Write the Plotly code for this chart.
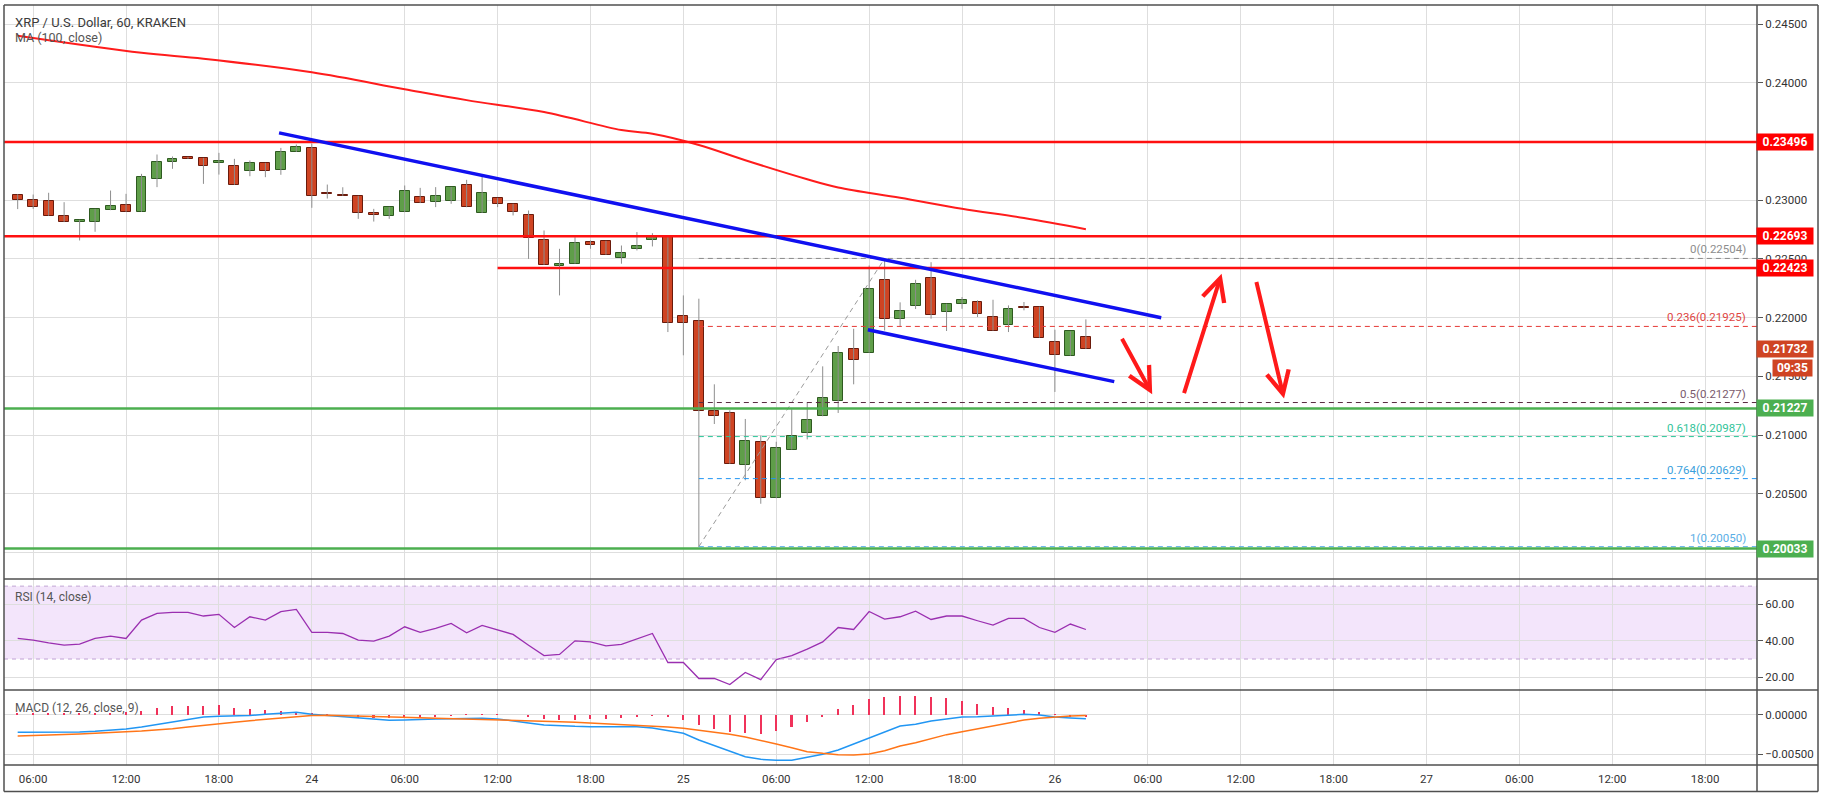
import plotly.graph_objects as go
from plotly.subplots import make_subplots
import pandas as pd

# ---------------- data ----------------
TIMES = pd.date_range('2019-11-23 05:00', periods=70, freq='h')

OPEN = [0.23046, 0.23003, 0.22989, 0.22867, 0.22813, 0.22813, 0.22915, 0.22960, 0.22901, 0.23182,
        0.23326, 0.23369, 0.23360, 0.23318, 0.23292, 0.23250, 0.23318, 0.23255, 0.23411, 0.23445,
        0.23065, 0.23046, 0.23037, 0.22893, 0.22864, 0.22898, 0.23028, 0.22983, 0.22992, 0.23133,
        0.22892, 0.23020, 0.22969, 0.22878, 0.22657, 0.22436, 0.22459, 0.22640, 0.22654, 0.22509,
        0.22586, 0.22663, 0.22697, 0.22017, 0.21974, 0.21202, 0.21191, 0.20747, 0.20938, 0.20462,
        0.20877, 0.21018, 0.21160, 0.21290, 0.21733, 0.21701, 0.22317, 0.21991, 0.22101, 0.22339,
        0.22045, 0.22118, 0.22135, 0.22008, 0.21940, 0.22093, 0.22093, 0.21795, 0.21676, 0.21837]
HIGH = [0.23050, 0.23048, 0.23063, 0.22983, 0.22833, 0.22926, 0.23082, 0.23054, 0.23224, 0.23389,
        0.23372, 0.23369, 0.23360, 0.23403, 0.23352, 0.23338, 0.23318, 0.23445, 0.23474, 0.23480,
        0.23133, 0.23110, 0.23037, 0.22926, 0.22943, 0.23125, 0.23105, 0.23111, 0.23113, 0.23173,
        0.23204, 0.23020, 0.22969, 0.22912, 0.22742, 0.22586, 0.22685, 0.22657, 0.22654, 0.22614,
        0.22728, 0.22719, 0.22697, 0.22189, 0.22161, 0.21432, 0.21211, 0.21137, 0.20995, 0.20943,
        0.21220, 0.21276, 0.21585, 0.21758, 0.21905, 0.22444, 0.22504, 0.22130, 0.22322, 0.22472,
        0.22118, 0.22175, 0.22147, 0.22152, 0.22104, 0.22133, 0.22093, 0.21897, 0.21883, 0.21985]
LOW = [0.22924, 0.22926, 0.22867, 0.22813, 0.22657, 0.22731, 0.22915, 0.22901, 0.22901, 0.23111,
       0.23267, 0.23352, 0.23139, 0.23218, 0.23131, 0.23204, 0.23196, 0.23216, 0.23411, 0.22935,
       0.23014, 0.23037, 0.22841, 0.22818, 0.22841, 0.22898, 0.22975, 0.22941, 0.22969, 0.22940,
       0.22892, 0.22941, 0.22870, 0.22500, 0.22450, 0.22189, 0.22459, 0.22586, 0.22535, 0.22459,
       0.22572, 0.22606, 0.21877, 0.21679, 0.20048, 0.21094, 0.20755, 0.20615, 0.20415, 0.20462,
       0.20877, 0.20963, 0.21160, 0.21188, 0.21432, 0.21701, 0.21891, 0.21920, 0.22073, 0.21991,
       0.21886, 0.22075, 0.22005, 0.21889, 0.21877, 0.22062, 0.21829, 0.21367, 0.21676, 0.21732]
CLOSE = [0.23003, 0.22940, 0.22867, 0.22813, 0.22833, 0.22926, 0.22952, 0.22901, 0.23199, 0.23326,
         0.23352, 0.23352, 0.23292, 0.23335, 0.23131, 0.23318, 0.23247, 0.23411, 0.23457, 0.23034,
         0.23054, 0.23037, 0.22892, 0.22870, 0.22943, 0.23080, 0.22975, 0.23037, 0.23113, 0.22940,
         0.23062, 0.22966, 0.22898, 0.22680, 0.22450, 0.22456, 0.22637, 0.22620, 0.22535, 0.22552,
         0.22611, 0.22694, 0.21957, 0.21957, 0.21202, 0.21165, 0.20755, 0.20952, 0.20468, 0.20886,
         0.20988, 0.21131, 0.21319, 0.21701, 0.21643, 0.22246, 0.21991, 0.22058, 0.22288, 0.22025,
         0.22118, 0.22152, 0.22033, 0.21889, 0.22076, 0.22082, 0.21829, 0.21685, 0.21883, 0.21732]

MA_TIMES = ['2019-11-23 05:00', '2019-11-23 13:00', '2019-11-23 17:00', '2019-11-24 00:00',
            '2019-11-24 06:00', '2019-11-24 10:00', '2019-11-24 15:00', '2019-11-24 20:00',
            '2019-11-24 22:00', '2019-11-25 01:00', '2019-11-25 04:00', '2019-11-25 08:00',
            '2019-11-25 10:00', '2019-11-25 14:00', '2019-11-25 18:00', '2019-11-25 22:00',
            '2019-11-26 02:00']
MA_VALUES = [0.24400, 0.24255, 0.24205, 0.24089, 0.23945, 0.23852, 0.23750, 0.23597,
             0.23565, 0.23470, 0.23340, 0.23178, 0.23108, 0.23020, 0.22927, 0.22848, 0.22753]

RSI = [41.3, 40.4, 38.9, 37.6, 38.2, 41.3, 42.6, 41.3, 51.4, 55.0,
       55.6, 55.6, 53.6, 54.5, 47.3, 53.2, 51.4, 56.0, 57.2, 44.6,
       44.6, 44.0, 40.4, 39.8, 42.6, 47.7, 44.6, 46.8, 49.5, 44.4,
       48.4, 45.9, 43.5, 37.6, 31.9, 32.5, 40.0, 39.4, 37.2, 38.0,
       40.9, 44.0, 28.1, 28.1, 19.3, 19.3, 16.0, 22.6, 18.7, 29.7,
       31.9, 35.4, 39.4, 47.3, 46.2, 56.1, 51.9, 53.2, 56.3, 51.7,
       53.6, 53.6, 51.0, 48.6, 52.3, 52.3, 47.3, 44.6, 49.2, 46.2]

MACD = [-0.00220, -0.00220, -0.00220, -0.00220, -0.00216, -0.00208, -0.00195, -0.00178, -0.00153, -0.00119,
        -0.00085, -0.00051, -0.00025, -0.00017, -0.00013, -0.00008, 0.00008, 0.00025, 0.00034, 0.00008,
        -0.00008, -0.00025, -0.00042, -0.00059, -0.00068, -0.00064, -0.00055, -0.00051, -0.00047, -0.00042,
        -0.00042, -0.00051, -0.00072, -0.00102, -0.00127, -0.00140, -0.00144, -0.00148, -0.00148, -0.00148,
        -0.00148, -0.00165, -0.00195, -0.00233, -0.00318, -0.00390, -0.00466, -0.00530, -0.00564, -0.00577,
        -0.00577, -0.00543, -0.00500, -0.00445, -0.00369, -0.00297, -0.00220, -0.00140, -0.00119, -0.00076,
        -0.00051, -0.00025, -0.00021, -0.00013, -0.00004, 0.00008, 0.00000, -0.00025, -0.00038, -0.00047]
SIGNAL = [-0.00267, -0.00263, -0.00254, -0.00250, -0.00242, -0.00233, -0.00220, -0.00212, -0.00204, -0.00191,
          -0.00174, -0.00153, -0.00136, -0.00114, -0.00093, -0.00072, -0.00055, -0.00034, -0.00017, -0.00008,
          -0.00004, -0.00008, -0.00013, -0.00017, -0.00021, -0.00025, -0.00034, -0.00042, -0.00047, -0.00051,
          -0.00055, -0.00059, -0.00064, -0.00068, -0.00076, -0.00085, -0.00093, -0.00102, -0.00114, -0.00123,
          -0.00131, -0.00144, -0.00153, -0.00170, -0.00195, -0.00220, -0.00246, -0.00280, -0.00322, -0.00369,
          -0.00416, -0.00466, -0.00488, -0.00505, -0.00509, -0.00496, -0.00454, -0.00394, -0.00352, -0.00297,
          -0.00250, -0.00212, -0.00174, -0.00136, -0.00098, -0.00064, -0.00042, -0.00025, -0.00013, -0.00008]
HIST = [0.00013, 0.00017, 0.00017, 0.00017, 0.00021, 0.00025, 0.00030, 0.00034, 0.00051, 0.00085,
        0.00114, 0.00114, 0.00119, 0.00127, 0.00089, 0.00076, 0.00064, 0.00051, 0.00042, 0.00013,
        0.00004, -0.00008, -0.00034, -0.00034, -0.00038, -0.00030, -0.00025, -0.00017, -0.00004, 0.00004,
        0.00004, 0.00004, 0.00000, -0.00021, -0.00051, -0.00059, -0.00064, -0.00051, -0.00047, -0.00038,
        -0.00025, -0.00008, -0.00017, -0.00059, -0.00127, -0.00178, -0.00212, -0.00233, -0.00242, -0.00204,
        -0.00148, -0.00085, -0.00021, 0.00072, 0.00127, 0.00199, 0.00233, 0.00242, 0.00246, 0.00233,
        0.00212, 0.00182, 0.00140, 0.00106, 0.00085, 0.00064, 0.00034, 0.00008, -0.00013, -0.00025]

RED_LEVELS = [0.23496, 0.22693, 0.22423]
GREEN_LEVELS = [0.21227, 0.20033]
LAST_PRICE = 0.21732
COUNTDOWN = '09:35'

FIB_RATIOS = ['0', '0.236', '0.5', '0.618', '0.764', '1']
FIB_VALUES = [0.22504, 0.21925, 0.21277, 0.20987, 0.20629, 0.20050]

PRICE_TICKS = [0.200, 0.205, 0.210, 0.215, 0.220, 0.225, 0.230, 0.235, 0.240, 0.245]
RSI_TICKS = [20, 40, 60]
MACD_TICKS = [0.0, -0.005]
MACD_TICK_TEXT = ['0.00000', '\u22120.00500']
TICK_TIMES = pd.date_range('2019-11-23 06:00', '2019-11-27 18:00', freq='6h')
TICK_TEXT = ['06:00', '12:00', '18:00', '24', '06:00', '12:00', '18:00', '25',
             '06:00', '12:00', '18:00', '26', '06:00', '12:00', '18:00', '27',
             '06:00', '12:00', '18:00']

# drawings (trend lines, fib anchor, arrows) in (time, price)
UPPER_TREND = [('2019-11-23 21:53', 0.23573), ('2019-11-26 06:52', 0.21999)]
LOWER_TREND = [('2019-11-25 11:55', 0.21897), ('2019-11-26 03:50', 0.21455)]
FIB_FROM = ('2019-11-25 01:00', 0.20050)
FIB_TO = ('2019-11-25 13:00', 0.22504)
LEVEL3_START = '2019-11-24 12:00'
ARROWS = [('2019-11-26 06:17', 0.21347, -31, -57),
          ('2019-11-26 10:46', 0.22374, -38, 121),
          ('2019-11-26 14:48', 0.21311, -28, -118)]

# ---------------- style ----------------
X0, X1 = '2019-11-23 04:07', '2019-11-27 21:21'
GRID = '#dedede'
BORDER = '#4f4f4f'
UP_FILL, UP_EDGE = '#5f9e49', '#2e5a20'
DN_FILL, DN_EDGE = '#cf4423', '#6a1b0c'
FONT = 'Roboto'
FIB_COLORS = ['#8a8a8a', '#e53935', '#5a2a40', '#2bc79a', '#2196f3', '#5fb0ea']
FIB_TEXT_COLORS = ['#8d8d8d', '#e0453f', '#7a5a6c', '#33c49a', '#3a9fdc', '#5aaee6']

fig = make_subplots(rows=3, cols=1, shared_xaxes=True, vertical_spacing=0)

# wicks
wx, wy = [], []
for t, h, l in zip(TIMES, HIGH, LOW):
    wx += [t, t, None]
    wy += [l, h, None]
fig.add_trace(go.Scatter(x=wx, y=wy, mode='lines', line=dict(color='#8e8e8e', width=1),
                         hoverinfo='skip'), row=1, col=1)

# bodies
bases, heights, fills, edges = [], [], [], []
for o, c in zip(OPEN, CLOSE):
    bases.append(min(o, c))
    heights.append(max(abs(c - o), 0.00003))
    up = c >= o
    fills.append(UP_FILL if up else DN_FILL)
    edges.append(UP_EDGE if up else DN_EDGE)
fig.add_trace(go.Bar(x=TIMES, y=heights, base=bases, width=0.64 * 3600 * 1000,
                     marker=dict(color=fills, line=dict(color=edges, width=1))), row=1, col=1)

# MA 100
fig.add_trace(go.Scatter(x=pd.to_datetime(MA_TIMES), y=MA_VALUES, mode='lines',
                         line=dict(color='#ff1c1c', width=2, shape='spline')), row=1, col=1)

# RSI
fig.add_trace(go.Scatter(x=TIMES, y=RSI, mode='lines', line=dict(color='#9a2fb0', width=1.3)), row=2, col=1)

# MACD
fig.add_trace(go.Bar(x=TIMES, y=HIST, width=0.1 * 3600 * 1000, marker=dict(color='#f0325a', line=dict(width=0))),
              row=3, col=1)
fig.add_trace(go.Scatter(x=TIMES, y=MACD, mode='lines', line=dict(color='#2196f3', width=1.5)), row=3, col=1)
fig.add_trace(go.Scatter(x=TIMES, y=SIGNAL, mode='lines', line=dict(color='#ff7518', width=1.5)), row=3, col=1)

shapes = []
# RSI band
shapes.append(dict(type='rect', xref='x2 domain', x0=0, x1=1, yref='y2', y0=30, y1=70,
                   fillcolor='#f3e5fb', line=dict(width=0), layer='below'))
for v in (30, 70):
    shapes.append(dict(type='line', xref='x2 domain', x0=0, x1=1, yref='y2', y0=v, y1=v,
                       line=dict(color='#bfa3d3', width=1, dash='4px,4px')))
# fib diagonal
shapes.append(dict(type='line', xref='x', yref='y', x0=FIB_FROM[0], y0=FIB_FROM[1], x1=FIB_TO[0], y1=FIB_TO[1],
                   line=dict(color='#9a9a9a', width=1, dash='5px,4px')))
# fib levels
for v, col in zip(FIB_VALUES, FIB_COLORS):
    shapes.append(dict(type='line', xref='x', yref='y', x0=FIB_FROM[0], x1=X1, y0=v, y1=v,
                       line=dict(color=col, width=1, dash='5px,4px')))
# red / green levels
for i, v in enumerate(RED_LEVELS):
    if i == 2:
        shapes.append(dict(type='line', xref='x', x0=LEVEL3_START, x1=X1, yref='y', y0=v, y1=v,
                           line=dict(color='#ff1010', width=2.5)))
    else:
        shapes.append(dict(type='line', xref='x domain', x0=0, x1=1, yref='y', y0=v, y1=v,
                           line=dict(color='#ff1010', width=2.5)))
for v in GREEN_LEVELS:
    shapes.append(dict(type='line', xref='x domain', x0=0, x1=1, yref='y', y0=v, y1=v,
                       line=dict(color='#4caf50', width=2.5)))
# trend lines
for (a, b) in (UPPER_TREND, LOWER_TREND):
    shapes.append(dict(type='line', xref='x', yref='y', x0=a[0], y0=a[1], x1=b[0], y1=b[1],
                       line=dict(color='#1010f0', width=3.5)))

# frame
RX = 1.0348
BY = -0.0349
D1, D2 = 0.2447, 0.0987
frame = [(0, BY, 0, 1), (0, 1, RX, 1), (RX, BY, RX, 1), (0, BY, RX, BY), (1, BY, 1, 1),
         (0, D1, RX, D1), (0, D2, RX, D2), (0, 0, RX, 0)]
for x0, y0, x1, y1 in frame:
    shapes.append(dict(type='line', xref='paper', yref='paper', x0=x0, y0=y0, x1=x1, y1=y1,
                       line=dict(color=BORDER, width=1.5)))

ann = []
ann.append(dict(text='XRP / U.S. Dollar, 60, KRAKEN', xref='paper', yref='paper', x=0.0054, y=0.9776,
                xanchor='left', yanchor='middle', showarrow=False, font=dict(family=FONT, size=13, color='#3a3a3a')))
ann.append(dict(text='MA (100, close)', xref='paper', yref='paper', x=0.0054, y=0.9566,
                xanchor='left', yanchor='middle', showarrow=False, font=dict(family=FONT, size=12.5, color='#555555')))
ann.append(dict(text='RSI (14, close)', xref='paper', yref='paper', x=0.005, y=0.2214,
                xanchor='left', yanchor='middle', showarrow=False, font=dict(family=FONT, size=12, color='#555555')))
ann.append(dict(text='MACD (12, 26, close, 9)', xref='paper', yref='paper', x=0.005, y=0.075,
                xanchor='left', yanchor='middle', showarrow=False, font=dict(family=FONT, size=12, color='#555555')))
for r, v, col in zip(FIB_RATIOS, FIB_VALUES, FIB_TEXT_COLORS):
    ann.append(dict(text=f'{r}({v:.5f})', xref='paper', yref='y', x=0.9949, y=v, xanchor='right', yanchor='bottom',
                    showarrow=False, font=dict(family=FONT, size=11.5, color=col)))
tags = [(v, '#ff0000') for v in RED_LEVELS] + [(LAST_PRICE, '#cf4423')] + [(v, '#4caf50') for v in GREEN_LEVELS]
for v, col in tags:
    ann.append(dict(text=f'<b>{v:.5f}</b>', xref='paper', yref='y', x=1.0157, y=v, xanchor='center',
                    yanchor='middle', showarrow=False, bgcolor=col, width=54, height=14, borderpad=1,
                    font=dict(family=FONT, size=12, color='white')))
ann.append(dict(text=f'<b>{COUNTDOWN}</b>', xref='paper', yref='y', x=1.0203, y=LAST_PRICE, yshift=-19,
                xanchor='center', yanchor='middle', showarrow=False, bgcolor='#cf4423', width=37, height=14,
                borderpad=1, font=dict(family=FONT, size=12, color='white')))
for t, p, ax, ay in ARROWS:
    ann.append(dict(text='', x=t, y=p, xref='x', yref='y', ax=ax, ay=ay, showarrow=True, arrowhead=5,
                    arrowwidth=4, arrowsize=1.1, arrowcolor='#ff1a1a', standoff=0))

fig.update_layout(shapes=shapes, annotations=ann)

fig.update_xaxes(range=[X0, X1], tickmode='array', tickvals=TICK_TIMES, ticktext=TICK_TEXT,
                 showgrid=True, gridcolor=GRID, gridwidth=1, zeroline=False, showline=False, ticks='',
                 rangeslider=dict(visible=False))
fig.update_xaxes(showticklabels=False, row=1, col=1)
fig.update_xaxes(showticklabels=False, row=2, col=1)
fig.update_xaxes(showticklabels=True, tickfont=dict(family=FONT, size=11.5, color='#333333'),
                 ticklabelstandoff=5, row=3, col=1)

common_y = dict(side='right', showgrid=True, gridcolor=GRID, gridwidth=1, zeroline=False, ticks='outside',
                ticklen=5, tickcolor='#555555', tickfont=dict(family=FONT, size=11.5, color='#333333'),
                showline=False)
fig.update_layout(
    yaxis=dict(domain=[D1, 1], range=[0.19774, 0.24662], tickmode='array', tickvals=PRICE_TICKS,
               ticktext=[f'{v:.5f}' for v in PRICE_TICKS], **common_y),
    yaxis2=dict(domain=[D2, D1], range=[13.0, 73.9], tickmode='array', tickvals=RSI_TICKS,
                ticktext=[f'{v:.2f}' for v in RSI_TICKS], **common_y),
    yaxis3=dict(domain=[0, D2], range=[-0.00636, 0.00318], tickmode='array', tickvals=MACD_TICKS,
                ticktext=MACD_TICK_TEXT, **common_y),
)

fig.update_layout(width=1823, height=795, margin=dict(l=4, r=66, t=5, b=30), showlegend=False,
                  plot_bgcolor='white', paper_bgcolor='white', barmode='overlay', bargap=0,
                  font=dict(family=FONT))

fig.write_html('out.html')
